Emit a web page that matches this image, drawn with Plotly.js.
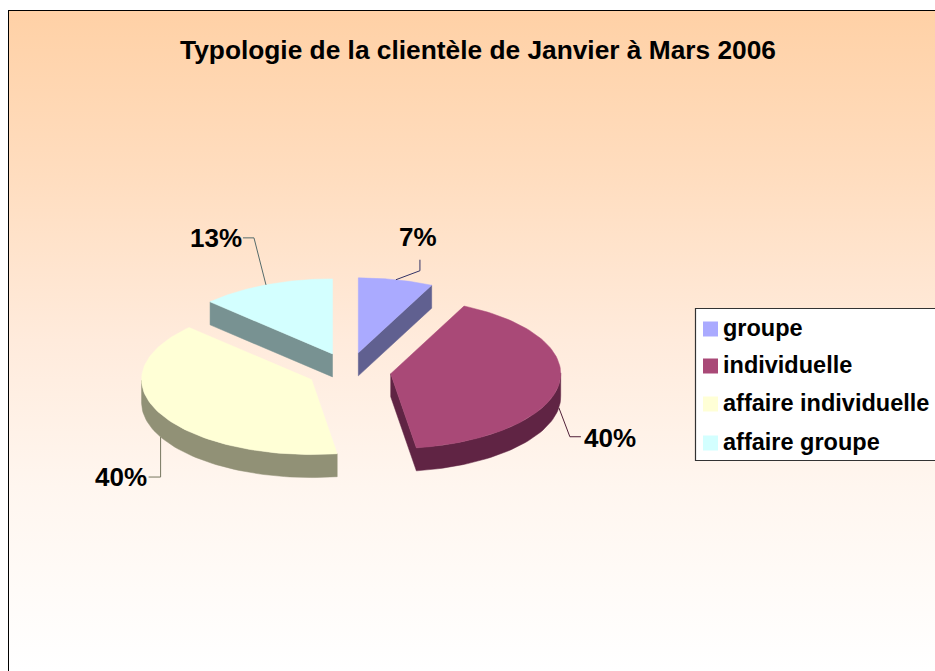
<!DOCTYPE html>
<html><head><meta charset="utf-8">
<script src="https://cdn.plot.ly/plotly-3.0.1.min.js"></script>
<style>
html,body{margin:0;padding:0;background:#fff;overflow:hidden}
#bg{position:absolute;left:8px;top:10px;width:927px;height:661px;box-sizing:border-box;border-left:1px solid #000;border-top:1px solid #000;
background:linear-gradient(to bottom,#FFD1A6 0%,#FFDDBF 25%,#FFEBDC 50%,#FFF6EF 72%,#FFFFFF 100%)}
#chart{position:absolute;left:0;top:0;width:935px;height:671px}
</style></head><body>
<div id="bg"></div><div id="chart"></div>
<script>
const categories = ['groupe','individuelle','affaire individuelle','affaire groupe'];
const shares = [7.1, 40.49, 39.61, 12.8];
const topColors = ['#AAAAFF','#A94977','#FFFFD6','#D3FFFF'];
const sideColors = ['#606090','#602444','#919176','#789292'];
const leaderColors = ['#333366','#502038','#77775f','#556b6b'];
const titleText = 'Typologie de la clientèle de Janvier à Mars 2006';

// pie projection (axis units equal pixels)
const cx = 349, cy = 371, rx = 170, ry = 75, pull = 0.248, depth = 23;
// leader elbows relative to the slice's rim point
const leaderOffsets = [[[24,-9],[24,-20]],[[11,29],[22,29]],[[0,40],[-12,40]],[[-12,-47],[-23,-47]]];
const labelPos = [[418,237],[610,438],[121,477],[216,238]];

const total = shares.reduce((a,b)=>a+b,0);
const traces = [];
let acc = 0;
const rim = (o,t)=>[o[0]+rx*Math.sin(t), o[1]-ry*Math.cos(t)];
const annotations = [];
shares.forEach((v,i)=>{
  const t0 = acc/total*2*Math.PI, t1 = (acc+v)/total*2*Math.PI; acc += v;
  const mid = (t0+t1)/2;
  const apex = [cx+pull*rx*Math.sin(mid), cy-pull*ry*Math.cos(mid)];
  const outline = [apex];
  const n = 80;
  for(let k=0;k<=n;k++) outline.push(rim(apex,t0+(t1-t0)*k/n));
  outline.push(apex);
  // side wall: the run of outline edges whose outer face looks down
  const m = outline.length-1;
  let first = -1;
  for(let k=0;k<m;k++){
    const back = outline[(k-1+m)%m], a = outline[k], b = outline[k+1];
    if(b[0]-a[0] < 0 && !(a[0]-back[0] < 0)) { first = k; break; }
  }
  const run = [];
  for(let j=0;j<m;j++){
    const k=(first+j)%m, a=outline[k], b=outline[k+1];
    if(b[0]-a[0] < 0){ if(!run.length) run.push(a); run.push(b); } else break;
  }
  const wall = run.concat(run.slice().reverse().map(p=>[p[0],p[1]+depth]));
  wall.push(run[0]);
  traces.push({type:'scatter',mode:'lines',x:wall.map(p=>p[0]),y:wall.map(p=>p[1]),fill:'toself',fillcolor:sideColors[i],
    line:{color:sideColors[i],width:0.5},hoverinfo:'skip',showlegend:false});
  traces.push({type:'scatter',mode:'lines',x:outline.map(p=>p[0]),y:outline.map(p=>p[1]),fill:'toself',
    fillcolor:topColors[i],line:{color:topColors[i],width:0.5},name:categories[i],showlegend:false,
    hoverinfo:'name'});
  // leader line from the middle of the rim
  const r = rim(apex,mid);
  const startY = r[1] + (Math.cos(mid)<0 ? depth : 0);
  const off = leaderOffsets[i];
  traces.push({type:'scatter',mode:'lines',
    x:[r[0],r[0]+off[0][0],r[0]+off[1][0]],
    y:[startY,startY+off[0][1],startY+off[1][1]],
    line:{color:leaderColors[i],width:1},hoverinfo:'skip',showlegend:false});
  annotations.push({x:labelPos[i][0],y:labelPos[i][1],xref:'x',yref:'y',showarrow:false,
    text:'<b>'+Math.round(v)+'%</b>',font:{family:'Liberation Sans',size:26,color:'#000'},xanchor:'center',yanchor:'middle'});
});

// legend, drawn to match the reference's small square swatches
const legendBox = {x0:695.5,x1:940,y0:308.5,y1:460.5}, legendRows=[329,366,404,443];
const shapes = [{type:'rect',xref:'x',yref:'y',x0:legendBox.x0,x1:legendBox.x1,y0:legendBox.y0,y1:legendBox.y1,
  fillcolor:'#fff',line:{color:'#333',width:1.2},layer:'below'}];
categories.forEach((c,i)=>{
  shapes.push({type:'rect',xref:'x',yref:'y',x0:703,x1:718,y0:legendRows[i]-7.5,y1:legendRows[i]+7.5,
    fillcolor:topColors[i],line:{width:0},layer:'below'});
  annotations.push({x:721,y:legendRows[i]-1,xref:'x',yref:'y',showarrow:false,xanchor:'left',yanchor:'middle',
    text:'<b>'+c+'</b>',font:{family:'Liberation Sans',size:23.5,color:'#000'}});
});

Plotly.newPlot('chart',traces,{
  width:935,height:671,margin:{l:0,r:0,t:0,b:0},
  paper_bgcolor:'rgba(0,0,0,0)',plot_bgcolor:'rgba(0,0,0,0)',showlegend:false,
  title:{text:'<b>'+titleText+'</b>',x:478/935,y:1-50/671,xanchor:'center',yanchor:'middle',
    font:{family:'Liberation Sans',size:26.3,color:'#000'}},
  xaxis:{range:[0,935],visible:false,fixedrange:true},
  yaxis:{range:[671,0],visible:false,fixedrange:true},
  shapes,annotations
},{displayModeBar:false,staticPlot:true});
</script></body></html>
